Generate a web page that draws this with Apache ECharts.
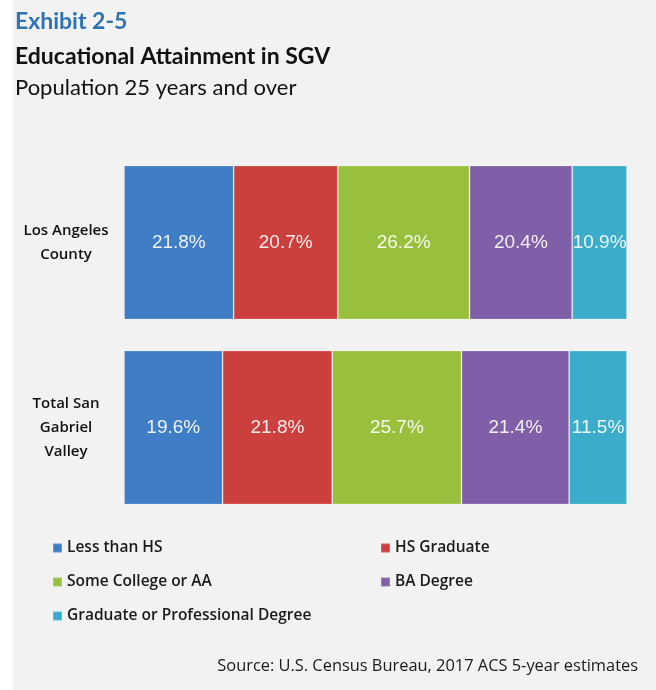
<!DOCTYPE html>
<html>
<head>
<meta charset="utf-8">
<script src="https://cdn.jsdelivr.net/npm/echarts@6/dist/echarts.min.js"></script>
<style>
  html, body { margin: 0; padding: 0; background: #ffffff; }
  #chart { width: 656px; height: 690px; }
</style>
</head>
<body>
<div id="chart"></div>
<script>
// Regions shown as stacked 100% bars
const regions = ['Los Angeles\nCounty', 'Total San\nGabriel\nValley'];

// Share of population 25+ by attainment level (%)
const lessThanHS      = [21.8, 19.6];
const hsGraduate      = [20.7, 21.8];
const someCollegeAA   = [26.2, 25.7];
const baDegree        = [20.4, 21.4];
const gradProfDegree  = [10.9, 11.5];

const levelNames = ['Less than HS', 'HS Graduate', 'Some College or AA', 'BA Degree', 'Graduate or Professional Degree'];
const levelValues = [lessThanHS, hsGraduate, someCollegeAA, baDegree, gradProfDegree];
const levelColors = ['#3f7dc6', '#cb403d', '#98c03d', '#7f5fa7', '#3badca'];

const chart = echarts.init(document.getElementById('chart'), null, { renderer: 'canvas' });

const series = levelNames.map((name, i) => ({
  name: name,
  type: 'bar',
  stack: 'total',
  barWidth: 154,
  data: levelValues[i],
  itemStyle: { color: levelColors[i], borderColor: 'rgba(255,255,255,0.2)', borderWidth: 1 },
  label: {
    show: true,
    position: 'inside',
    formatter: p => p.value.toFixed(1) + '%',
    color: 'rgba(255,255,255,0.9)',
    fontFamily: '"Liberation Sans", Arial, sans-serif',
    fontSize: 19
  }
}));

const legendText = { fontFamily: 'Open Sans', fontSize: 15.5, color: '#1a1a1a', lineHeight: 16, fontWeight: 600 };

chart.setOption({
  animation: false,
  backgroundColor: '#ffffff',
  graphic: [{
    type: 'rect', z: -10, silent: true,
    shape: { x: 13, y: 0, width: 643, height: 690 },
    style: { fill: '#f2f2f2' }
  }],
  title: [
    { text: 'Exhibit 2-5', left: 15, top: 10, padding: 0,
      textStyle: { fontFamily: 'Lato', fontWeight: 'bold', fontSize: 23, color: '#2e74b5' } },
    { text: 'Educational Attainment in SGV', left: 15, top: 45, padding: 0,
      textStyle: { fontFamily: 'Lato', fontWeight: 'bold', fontSize: 23, color: '#111' } },
    { text: 'Population 25 years and over', left: 15, top: 77, padding: 0,
      textStyle: { fontFamily: 'Lato', fontWeight: 'normal', fontSize: 22, color: '#111' } },
    { text: 'Source: U.S. Census Bureau, 2017 ACS 5-year estimates', right: 18, top: 658, padding: 0,
      textStyle: { fontFamily: 'Open Sans', fontWeight: 'normal', fontSize: 16.4, color: '#1a1a1a' } }
  ],
  legend: [
    { data: [levelNames[0], levelNames[2], levelNames[4]], orient: 'vertical', left: 52, top: 540, padding: 0,
      icon: 'rect', itemWidth: 9, itemHeight: 9, itemGap: 18, textStyle: legendText, selectedMode: false },
    { data: [levelNames[1], levelNames[3]], orient: 'vertical', left: 380, top: 540, padding: 0,
      icon: 'rect', itemWidth: 9, itemHeight: 9, itemGap: 18, textStyle: legendText, selectedMode: false }
  ],
  grid: { left: 124, right: 29, top: 150, height: 370, containLabel: false },
  xAxis: { type: 'value', min: 0, max: 100, show: false },
  yAxis: {
    type: 'category', data: regions, inverse: true,
    axisLine: { show: false }, axisTick: { show: false },
    axisLabel: {
      margin: 58, align: 'center', fontFamily: 'Open Sans', fontWeight: 600, fontSize: 15,
      lineHeight: 24, color: '#111'
    }
  },
  series: series
});
</script>
</body>
</html>
